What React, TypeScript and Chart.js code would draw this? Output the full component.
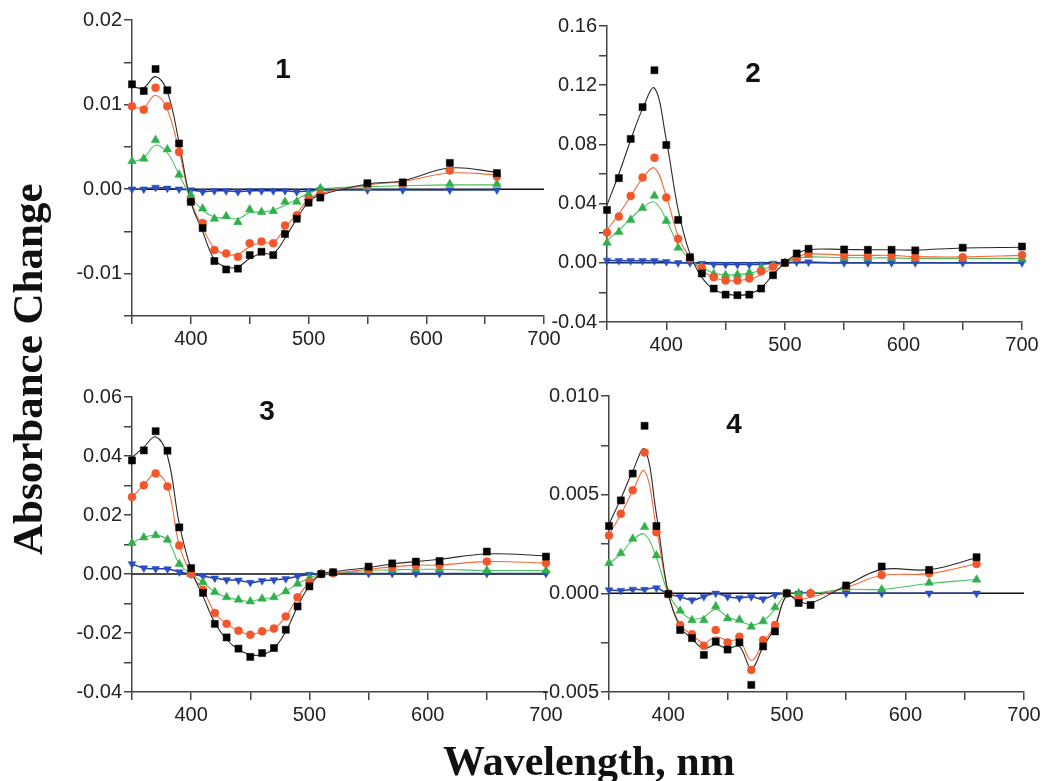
import React, { useEffect, useRef } from 'react';
import { Chart, registerables } from 'chart.js';
Chart.register(...registerables);

// ---------- data ----------
const X_TICKS = [350, 400, 450, 500, 550, 600, 650, 700];

// Panel 1
const P1_X = [350, 360, 370, 380, 390, 400, 410, 420, 430, 440, 450, 460, 470, 480, 490, 500, 510, 550, 580, 620, 660];
const P1_BLACK = [0.0124, 0.0116, 0.0142, 0.0117, 0.0054, -0.0015, -0.0046, -0.0085, -0.0095, -0.0094, -0.0078, -0.0074, -0.0078, -0.0053, -0.0035, -0.0016, -0.0010, 0.0007, 0.0008, 0.0031, 0.0019];
const P1_RED = [0.0098, 0.0094, 0.0120, 0.0098, 0.0044, -0.0014, -0.0040, -0.0072, -0.0076, -0.0080, -0.0064, -0.0062, -0.0064, -0.0043, -0.0031, -0.0012, -0.0006, 0.0005, 0.0007, 0.0022, 0.0015];
const P1_GREEN = [0.0033, 0.0036, 0.0058, 0.0047, 0.0017, -0.0007, -0.0023, -0.0035, -0.0032, -0.0039, -0.0024, -0.0027, -0.0026, -0.0015, -0.0015, -0.0006, 0.0001, 0.0002, 0.0006, 0.0006, 0.0006];
const P1_BLUE = [0.0000, 0.0000, 0.0002, 0.0001, 0.0000, -0.0001, -0.0003, -0.0002, -0.0002, -0.0003, -0.0002, -0.0002, -0.0002, -0.0002, -0.0003, -0.0002, -0.0001, -0.0001, -0.0001, -0.0001, -0.0001];
const P1_BLACK_FIT = [0.0121, 0.0120, 0.0133, 0.0115, 0.0055, -0.0015, -0.0050, -0.0083, -0.0092, -0.0092, -0.0082, -0.0076, -0.0076, -0.0058, -0.0035, -0.0015, -0.0007, 0.0006, 0.0010, 0.0025, 0.0020];
const P1_RED_FIT = [0.0096, 0.0097, 0.0111, 0.0094, 0.0045, -0.0014, -0.0045, -0.0070, -0.0077, -0.0077, -0.0068, -0.0063, -0.0063, -0.0046, -0.0029, -0.0012, -0.0005, 0.0005, 0.0009, 0.0019, 0.0017];
const P1_GREEN_FIT = [0.0032, 0.0037, 0.0052, 0.0043, 0.0017, -0.0009, -0.0025, -0.0033, -0.0034, -0.0035, -0.0028, -0.0027, -0.0025, -0.0019, -0.0012, -0.0005, 0.0000, 0.0003, 0.0004, 0.0005, 0.0005];

// Panel 2
const P2_X = [350, 360, 370, 380, 390, 400, 410, 420, 430, 440, 450, 460, 470, 480, 490, 500, 510, 520, 550, 570, 590, 610, 650, 700];
const P2_BLACK = [0.0357, 0.0572, 0.0837, 0.1052, 0.1301, 0.0796, 0.0290, 0.0038, -0.0072, -0.0174, -0.0215, -0.0219, -0.0215, -0.0174, -0.0084, 0.0000, 0.0063, 0.0095, 0.0090, 0.0088, 0.0088, 0.0084, 0.0102, 0.0110];
const P2_RED = [0.0204, 0.0312, 0.0452, 0.0577, 0.0710, 0.0441, 0.0163, 0.0029, -0.0034, -0.0097, -0.0120, -0.0120, -0.0106, -0.0057, -0.0027, 0.0000, 0.0034, 0.0063, 0.0052, 0.0050, 0.0050, 0.0038, 0.0038, 0.0052];
const P2_GREEN = [0.0136, 0.0208, 0.0290, 0.0370, 0.0453, 0.0283, 0.0102, 0.0034, -0.0027, -0.0075, -0.0084, -0.0079, -0.0068, -0.0034, -0.0018, 0.0000, 0.0040, 0.0052, 0.0034, 0.0034, 0.0034, 0.0027, 0.0027, 0.0027];
const P2_BLUE = [0.0016, 0.0014, 0.0014, 0.0014, 0.0014, 0.0007, 0.0000, 0.0000, -0.0005, -0.0010, -0.0012, -0.0012, -0.0012, -0.0010, -0.0005, 0.0000, 0.0005, 0.0005, 0.0000, 0.0000, 0.0000, 0.0000, 0.0000, 0.0000];
const P2_BLACK_FIT = [0.039, 0.060, 0.083, 0.104, 0.118, 0.083, 0.036, 0.006, -0.010, -0.018, -0.021, -0.022, -0.021, -0.017, -0.008, 0.000, 0.006, 0.009, 0.009, 0.0088, 0.0088, 0.0086, 0.010, 0.0105];
const P2_RED_FIT = [0.022, 0.033, 0.045, 0.057, 0.064, 0.045, 0.018, 0.003, -0.005, -0.010, -0.012, -0.012, -0.011, -0.008, -0.003, 0.000, 0.004, 0.006, 0.0052, 0.005, 0.005, 0.0042, 0.004, 0.005];
const P2_GREEN_FIT = [0.015, 0.022, 0.030, 0.037, 0.041, 0.029, 0.012, 0.002, -0.003, -0.007, -0.008, -0.008, -0.007, -0.005, -0.002, 0.000, 0.003, 0.004, 0.0035, 0.0033, 0.0033, 0.003, 0.003, 0.003];

// Panel 3
const P3_X = [350, 360, 370, 380, 390, 400, 410, 420, 430, 440, 450, 460, 470, 480, 490, 500, 510, 520, 550, 570, 590, 610, 650, 700];
const P3_BLACK = [0.0385, 0.0419, 0.0484, 0.0418, 0.0158, 0.0020, -0.0064, -0.0169, -0.0215, -0.0253, -0.0281, -0.0268, -0.0251, -0.0189, -0.0110, -0.0042, 0.0000, 0.0006, 0.0025, 0.0036, 0.0042, 0.0044, 0.0076, 0.0059];
const P3_RED = [0.0261, 0.0301, 0.0341, 0.0297, 0.0097, 0.0000, -0.0053, -0.0132, -0.0169, -0.0192, -0.0206, -0.0194, -0.0185, -0.0144, -0.0079, -0.0028, 0.0000, 0.0003, 0.0016, 0.0024, 0.0030, 0.0030, 0.0042, 0.0037];
const P3_GREEN = [0.0105, 0.0124, 0.0131, 0.0116, 0.0034, 0.0000, -0.0028, -0.0061, -0.0079, -0.0087, -0.0093, -0.0084, -0.0079, -0.0059, -0.0033, -0.0014, 0.0001, 0.0003, 0.0012, 0.0014, 0.0016, 0.0016, 0.0012, 0.0012];
const P3_BLUE = [0.0034, 0.0020, 0.0018, 0.0017, 0.0007, 0.0000, -0.0008, -0.0014, -0.0020, -0.0021, -0.0029, -0.0023, -0.0020, -0.0016, -0.0008, -0.0002, 0.0001, 0.0003, 0.0002, 0.0002, 0.0002, 0.0002, 0.0002, 0.0002];
const P3_BLACK_FIT = [0.0395, 0.0430, 0.0465, 0.0400, 0.0170, 0.0015, -0.0075, -0.0165, -0.0222, -0.0256, -0.0274, -0.0273, -0.0252, -0.0195, -0.0110, -0.0040, 0.0000, 0.0008, 0.0022, 0.0034, 0.0042, 0.0050, 0.0068, 0.0062];

// Panel 4
const P4_X = [350, 360, 370, 380, 390, 400, 410, 420, 430, 440, 450, 460, 470, 480, 490, 500, 510, 520, 550, 580, 620, 660];
const P4_BLACK = [0.00341, 0.00471, 0.00607, 0.00849, 0.00341, -0.00003, -0.00186, -0.00227, -0.00312, -0.00244, -0.00285, -0.00249, -0.00464, -0.00269, -0.00193, 0.0, -0.00049, -0.00059, 0.00040, 0.00136, 0.00119, 0.00183];
const P4_RED = [0.00293, 0.00403, 0.00522, 0.00714, 0.00310, -0.00003, -0.00161, -0.00207, -0.00266, -0.00186, -0.00249, -0.00220, -0.00388, -0.00237, -0.00161, 0.0, -0.00029, 0.0, 0.00034, 0.00093, 0.00102, 0.00149];
const P4_GREEN = [0.00153, 0.00203, 0.00276, 0.00336, 0.00192, 0.0, -0.00088, -0.00136, -0.00136, -0.00066, -0.00127, -0.00134, -0.00169, -0.00142, -0.00071, 0.0, 0.0, 0.0, 0.00027, 0.00019, 0.00053, 0.00069];
const P4_BLUE = [0.00017, 0.00014, 0.00020, 0.00019, 0.00027, -0.00003, -0.00017, -0.00034, -0.00017, 0.0, -0.00017, -0.00024, -0.00017, -0.00029, -0.00007, 0.0, 0.0, 0.0, 0.0, 0.0, 0.0, 0.0];
const P4_BLACK_FIT = [0.0035, 0.0048, 0.0062, 0.0073, 0.0040, 0.0000, -0.0017, -0.0023, -0.0028, -0.0026, -0.0028, -0.0027, -0.0038, -0.0027, -0.0017, -0.0001, -0.0004, -0.0005, 0.0004, 0.0012, 0.0012, 0.0018];
const P4_RED_FIT = [0.0030, 0.0040, 0.0052, 0.0062, 0.0033, 0.0000, -0.0016, -0.0021, -0.0025, -0.0022, -0.0024, -0.0024, -0.0034, -0.0025, -0.0016, -0.0001, -0.0003, -0.0002, 0.0003, 0.0009, 0.0010, 0.0015];
const P4_GREEN_FIT = [0.0015, 0.0020, 0.0027, 0.0030, 0.0018, 0.0000, -0.0009, -0.0013, -0.0012, -0.0008, -0.0012, -0.0014, -0.0016, -0.0014, -0.0008, 0.0000, 0.0000, 0.0000, 0.0002, 0.0002, 0.0005, 0.0007];

const PANEL_LABELS = ['1', '2', '3', '4'];
const X_TITLE = 'Wavelength, nm';
const Y_TITLE = 'Absorbance Change';

// ---------- styles ----------
const MARK = {
  black: { color: '#000000', line: '#2a2a2a', style: 'rect', radius: 5, rot: 0 },
  red: { color: '#f2562a', line: '#f26a3c', style: 'circle', radius: 4, rot: 0 },
  green: { color: '#2fb04a', line: '#4cc060', style: 'triangle', radius: 5, rot: 0 },
  blue: { color: '#2a4cc4', line: '#23409e', style: 'triangle', radius: 4.5, rot: 180 },
};

const YW = 80, XH = 40, TP = 14, RP = 20;
const TICK_FONT = { family: '"Liberation Sans", Arial, sans-serif', size: 20 };

const PANELS = [
  {
    x: P1_X, black: P1_BLACK, red: P1_RED, green: P1_GREEN, blue: P1_BLUE,
    blackFit: P1_BLACK_FIT, redFit: P1_RED_FIT, greenFit: P1_GREEN_FIT,
    yMin: -0.015, yMax: 0.02, major: 0.01, minor: 0.005, dec: 2, zero: '#111111',
    box: { left: 132, top: 20, w: 412, h: 296 },
  },
  {
    x: P2_X, black: P2_BLACK, red: P2_RED, green: P2_GREEN, blue: P2_BLUE,
    blackFit: P2_BLACK_FIT, redFit: P2_RED_FIT, greenFit: P2_GREEN_FIT,
    yMin: -0.04, yMax: 0.16, major: 0.04, minor: 0.02, dec: 2, zero: '#1b2a5e',
    box: { left: 607, top: 26, w: 415, h: 296 },
  },
  {
    x: P3_X, black: P3_BLACK, red: P3_RED, green: P3_GREEN, blue: P3_BLUE,
    blackFit: P3_BLACK_FIT, redFit: null, greenFit: null,
    yMin: -0.04, yMax: 0.06, major: 0.02, minor: 0.01, dec: 2, zero: '#111111',
    box: { left: 132, top: 397, w: 414, h: 295 },
  },
  {
    x: P4_X, black: P4_BLACK, red: P4_RED, green: P4_GREEN, blue: P4_BLUE,
    blackFit: P4_BLACK_FIT, redFit: P4_RED_FIT, greenFit: P4_GREEN_FIT,
    yMin: -0.005, yMax: 0.01, major: 0.005, minor: 0.0025, dec: 3, zero: '#111111',
    box: { left: 609, top: 396, w: 415, h: 296 },
  },
];

const LABEL_POS = [
  { x: 283, y: 78 },
  { x: 753, y: 82 },
  { x: 267, y: 420 },
  { x: 734, y: 433 },
];

function pts(xs: number[], ys: number[]) {
  return xs.map((x, i) => ({ x, y: ys[i] }));
}

function PanelChart({ p }: { p: any }) {
  const ref = useRef<HTMLCanvasElement>(null);
  const cw = YW + p.box.w + RP;
  const ch = TP + p.box.h + XH;
  useEffect(() => {
    const keys = ['black', 'red', 'green', 'blue'];
    const markerSets = keys.map((k) => {
      const m = (MARK as any)[k];
      return {
        data: pts(p.x, p[k]),
        showLine: false,
        pointStyle: m.style,
        pointRadius: m.radius,
        pointRotation: m.rot,
        backgroundColor: m.color,
        borderColor: m.color,
        pointBorderWidth: 0.5,
        clip: false,
      };
    });
    const lineSets = keys.map((k) => {
      const m = (MARK as any)[k];
      const fit = p[k + 'Fit'] || p[k];
      return {
        data: pts(p.x, fit),
        showLine: true,
        pointRadius: 0,
        borderColor: m.line,
        borderWidth: k === 'blue' ? 1.5 : 1.1,
        tension: 0.4,
        clip: false,
      };
    });
    const zeroSet = {
      data: [{ x: 350, y: 0 }, { x: 700, y: 0 }],
      showLine: true,
      pointRadius: 0,
      borderColor: p.zero,
      borderWidth: 1.5,
      clip: false,
    };
    const nY = Math.round((p.yMax - p.yMin) / p.minor);
    const yTicks: number[] = [];
    for (let i = 0; i <= nY; i++) yTicks.push(Math.round((p.yMin + i * p.minor) * 1e7) / 1e7);

    const chart = new Chart(ref.current as HTMLCanvasElement, {
      type: 'scatter',
      data: { datasets: [...markerSets, ...lineSets, zeroSet] as any },
      options: {
        responsive: false,
        animation: false,
        layout: { padding: { top: TP, right: RP, left: 0, bottom: 0 } },
        plugins: { legend: { display: false }, tooltip: { enabled: false }, title: { display: false } },
        scales: {
          x: {
            type: 'linear',
            min: 350,
            max: 700,
            afterBuildTicks: (s: any) => { s.ticks = X_TICKS.map((v) => ({ value: v })); },
            afterFit: (s: any) => { s.height = XH; },
            ticks: {
              autoSkip: false,
              maxRotation: 0,
              padding: 3,
              color: '#222',
              font: TICK_FONT,
              callback: (v: any) => (Number(v) % 100 === 0 ? String(v) : ''),
            },
            grid: { drawOnChartArea: false, drawTicks: true, tickLength: 8, color: '#444', lineWidth: 1.5 },
            border: { display: true, color: '#444', width: 1.5 },
          },
          y: {
            type: 'linear',
            min: p.yMin,
            max: p.yMax,
            afterBuildTicks: (s: any) => { s.ticks = yTicks.map((v) => ({ value: v })); },
            afterFit: (s: any) => { s.width = YW; },
            ticks: {
              autoSkip: false,
              padding: 2,
              color: '#222',
              font: TICK_FONT,
              callback: (v: any) => {
                const r = Number(v) / p.major;
                return Math.abs(r - Math.round(r)) < 1e-6 ? (Math.abs(Number(v)) < 1e-9 ? 0 : Number(v)).toFixed(p.dec) : '';
              },
            },
            grid: { drawOnChartArea: false, drawTicks: true, tickLength: 8, color: '#444', lineWidth: 1.5 },
            border: { display: true, color: '#444', width: 1.5 },
          },
        },
      } as any,
    });
    return () => chart.destroy();
  }, []);
  return (
    <canvas
      ref={ref}
      width={cw}
      height={ch}
      style={{ position: 'absolute', left: p.box.left - YW, top: p.box.top - TP, width: cw, height: ch }}
    />
  );
}

export default function App() {
  return (
    <div style={{ position: 'absolute', left: 0, top: 0, width: 1044, height: 781, overflow: 'hidden', background: '#fff' }}>
      {PANELS.map((p, i) => (
        <PanelChart key={i} p={p} />
      ))}
      <svg width={1044} height={781} style={{ position: 'absolute', left: 0, top: 0, pointerEvents: 'none' }}>
        {PANEL_LABELS.map((t, i) => (
          <text key={t} x={LABEL_POS[i].x} y={LABEL_POS[i].y} textAnchor="middle"
            style={{ font: 'bold 28px "Liberation Sans", Arial, sans-serif' }} fill="#111">{t}</text>
        ))}
        <text x={443} y={775} textAnchor="start" fill="#111"
          style={{ font: 'bold 42px "Liberation Serif", "Times New Roman", serif' }}>{X_TITLE}</text>
        <text transform="translate(42,555) rotate(-90)" textAnchor="start" fill="#111"
          style={{ font: 'bold 43px "Liberation Serif", "Times New Roman", serif' }}>{Y_TITLE}</text>
      </svg>
    </div>
  );
}
